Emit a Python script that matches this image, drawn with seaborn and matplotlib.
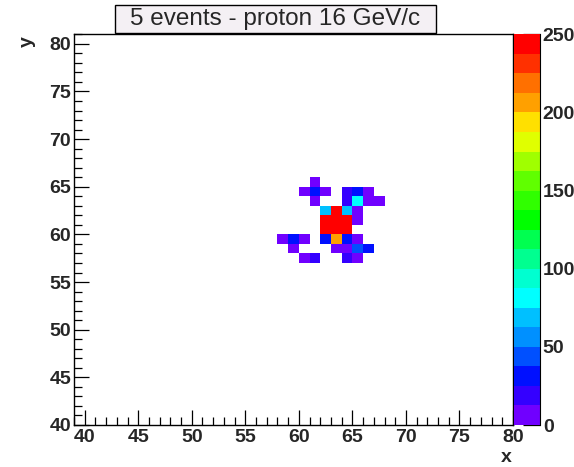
import numpy as np
import pandas as pd
import matplotlib
matplotlib.use("Agg")
import matplotlib.pyplot as plt
from matplotlib.colors import ListedColormap
from matplotlib.patches import Rectangle
from matplotlib.ticker import MultipleLocator
import seaborn as sns

# ---- data: hit cells (lower bin edge) and their contents ----
cell_x = [61,
          60, 61, 62, 64, 65, 66,
          61, 64, 65, 66, 67,
          62, 63, 64, 65,
          62, 63, 64, 65,
          62, 63, 64,
          58, 59, 60, 62, 63, 64, 65,
          59, 63, 64, 65, 66,
          60, 61, 64, 65]
cell_y = [65,
          64, 64, 64, 64, 64, 64,
          63, 63, 63, 63, 63,
          62, 62, 62, 62,
          61, 61, 61, 61,
          60, 60, 60,
          59, 59, 59, 59, 59, 59, 59,
          58, 58, 58, 58, 58,
          57, 57, 57, 57]
cell_val = [6,
            6, 31, 6, 19, 31, 6,
            6, 19, 80, 6, 6,
            68, 250, 68, 6,
            250, 250, 250, 6,
            250, 250, 250,
            6, 31, 6, 31, 205, 31, 6,
            6, 6, 6, 44, 31,
            6, 19, 19, 6]

title = "5 events - proton 16 GeV/c"
cbar_ticks = [0, 50, 100, 150, 200, 250]
palette = ["#7000ff", "#3400ff", "#0010ff", "#0050ff", "#0090ff",
           "#00c0ff", "#00ffff", "#00ffd0", "#00ff90", "#00ff50",
           "#00ff00", "#30ff00", "#60ff00", "#a0ff00", "#e0ff00",
           "#ffe000", "#ffa000", "#ff7000", "#ff3000", "#ff0000"]

df = pd.DataFrame({"x": np.array(cell_x) + 0.5,
                   "y": np.array(cell_y) + 0.5,
                   "w": cell_val})

sns.set_style("white")
plt.rcParams["font.family"] = ["Liberation Sans", "DejaVu Sans"]

fig = plt.figure(figsize=(5.74, 4.67), dpi=100)
ax = fig.add_axes([74/574, 1-425/467, (513-74)/574, (425-34.3)/467])
cax = fig.add_axes([514/574, 1-425/467, 26/574, (425-34.3)/467])

cmap = ListedColormap(palette)
sns.histplot(data=df, x="x", y="y", weights="w", binwidth=1,
             binrange=((39, 80), (40, 81)), cmap=cmap, vmin=0, vmax=250,
             cbar=True, cbar_ax=cax, ax=ax)

fs = 14
ax.set_xlim(39, 80)
ax.set_ylim(40, 81)
ax.set_xlabel("")
ax.set_ylabel("")
for s in ax.spines.values():
    s.set_visible(True)
    s.set_color("black")
    s.set_linewidth(1.0)
ax.xaxis.set_major_locator(MultipleLocator(5))
ax.xaxis.set_minor_locator(MultipleLocator(1))
ax.yaxis.set_major_locator(MultipleLocator(5))
ax.yaxis.set_minor_locator(MultipleLocator(1))
ax.tick_params(which="both", direction="in", bottom=True, left=True,
               top=False, right=False, color="black", width=0.9)
ax.tick_params(which="major", length=11)
ax.tick_params(which="minor", length=6)
ax.tick_params(axis="x", which="major", pad=3, labelsize=fs)
ax.tick_params(axis="y", which="major", pad=2, labelsize=fs)
for lab in ax.get_xticklabels() + ax.get_yticklabels():
    lab.set_fontweight("bold")

cax.set_yticks(cbar_ticks)
cax.tick_params(axis="y", direction="in", length=12, width=0.9,
                right=True, left=False, pad=2, labelsize=fs, color="black")
for lab in cax.get_yticklabels():
    lab.set_fontweight("bold")
for s in cax.spines.values():
    s.set_visible(False)
cax.spines["right"].set_visible(True)
cax.spines["right"].set_color("black")

fig.text(506/574, 1-458/467, "x", ha="center", va="center",
         fontsize=fs, fontweight="bold")
fig.text(27/574, 1-42/467, "y", ha="center", va="center", rotation=90,
         fontsize=fs, fontweight="bold")

fig.patches.append(Rectangle((115/574, 1-33/467), 321/574, 28/467,
                             transform=fig.transFigure, facecolor="#f4f0f4",
                             edgecolor="black", linewidth=1.0, zorder=5))
fig.text(275.5/574, 1-19.5/467, title, ha="center", va="center",
         fontsize=17.5, zorder=6)

fig.savefig("out.png", dpi=100)
